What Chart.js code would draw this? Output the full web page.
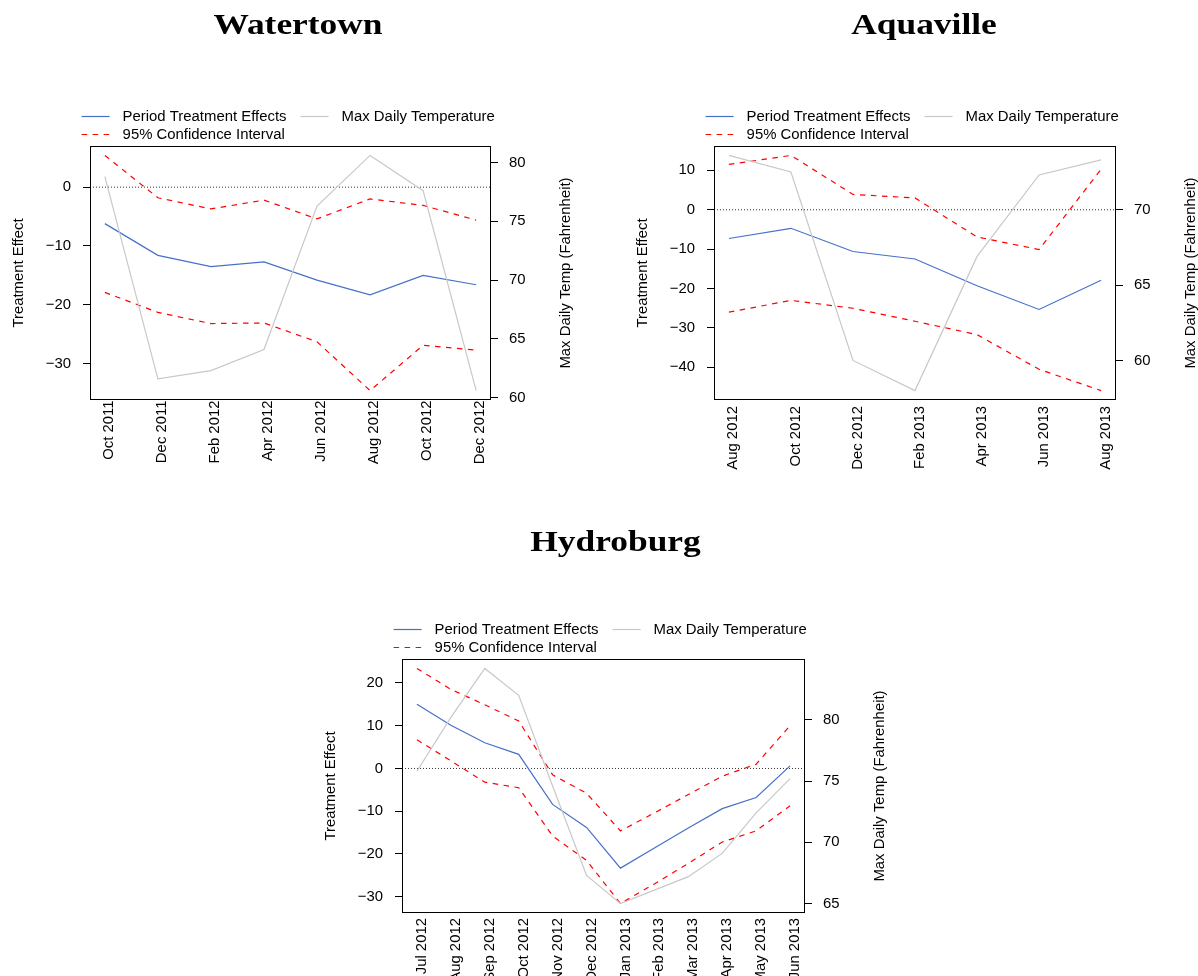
<!DOCTYPE html>
<html>
<head>
<meta charset="utf-8">
<script src="https://cdn.jsdelivr.net/npm/chart.js@4.4.1/dist/chart.umd.min.js"></script>
<style>
  html, body { margin: 0; padding: 0; background: #fff; }
  body { width: 1198px; height: 976px; position: relative; overflow: hidden; }
  canvas { position: absolute; display: block; }
</style>
</head>
<body>
<canvas id="water" width="600" height="490" style="left:0;top:0"></canvas>
<canvas id="aqua" width="598" height="490" style="left:600px;top:0"></canvas>
<canvas id="hydro" width="600" height="486" style="left:300px;top:490px"></canvas>
<script>
// ---- Watertown ----
const waterMonths = ['Oct 2011', 'Dec 2011', 'Feb 2012', 'Apr 2012', 'Jun 2012', 'Aug 2012', 'Oct 2012', 'Dec 2012'];
const waterEffect = [-6.2, -11.6, -13.5, -12.7, -15.8, -18.3, -15.0, -16.6];
const waterUpper = [5.4, -1.8, -3.7, -2.2, -5.4, -2.0, -3.1, -5.6];
const waterLower = [-17.9, -21.3, -23.2, -23.1, -26.3, -34.6, -26.9, -27.7];
const waterTemp = [78.8, 61.6, 62.3, 64.1, 76.3, 80.6, 77.6, 60.6];
const waterEffectTicks = [-30, -20, -10, 0];
const waterTempTicks = [60, 65, 70, 75, 80];

// ---- Aquaville ----
const aquaMonths = ['Aug 2012', 'Oct 2012', 'Dec 2012', 'Feb 2013', 'Apr 2013', 'Jun 2013', 'Aug 2013'];
const aquaEffect = [-7.3, -4.7, -10.6, -12.5, -19.3, -25.3, -17.9];
const aquaUpper = [11.5, 13.8, 3.9, 3.0, -6.9, -10.1, 10.3];
const aquaLower = [-26.0, -23.0, -25.0, -28.3, -31.7, -40.5, -45.9];
const aquaTemp = [73.6, 72.5, 60.0, 58.0, 66.9, 72.3, 73.3];
const aquaEffectTicks = [-40, -30, -20, -10, 0, 10];
const aquaTempTicks = [60, 65, 70];

// ---- Hydroburg ----
const hydroMonths = ['Jul 2012', 'Aug 2012', 'Sep 2012', 'Oct 2012', 'Nov 2012', 'Dec 2012',
                     'Jan 2013', 'Feb 2013', 'Mar 2013', 'Apr 2013', 'May 2013', 'Jun 2013'];
const hydroEffect = [15.0, 10.1, 6.0, 3.3, -8.4, -13.8, -23.3, -18.6, -13.9, -9.4, -6.8, 0.6];
const hydroUpper = [23.4, 18.5, 14.9, 11.1, -1.5, -5.8, -14.6, -10.4, -6.1, -1.8, 1.0, 10.0];
const hydroLower = [6.7, 1.8, -3.2, -4.5, -15.8, -21.5, -31.6, -27.0, -22.2, -17.2, -14.6, -8.7];
const hydroTemp = [75.8, 80.2, 84.2, 82.0, 74.6, 67.3, 65.0, 66.1, 67.2, 69.1, 72.4, 75.2];
const hydroEffectTicks = [-30, -20, -10, 0, 10, 20];
const hydroTempTicks = [65, 70, 75, 80];

const SANS = "'Liberation Sans', Arial, Helvetica, sans-serif";
const SERIF = "'Liberation Serif', 'Times New Roman', serif";
const TEXT_SIZE = 14.9;
Chart.defaults.font.family = SANS;
Chart.defaults.font.size = TEXT_SIZE;
Chart.defaults.color = '#000';

const BLUE = '#4670c8';
const RED = '#ff0000';
const GRAY = '#c8c8c8';
const DASH = [5.5, 5.5];

// axis limits padded by 4% of the data span on each side
function paddedRange(arrays) {
  const all = arrays.flat();
  const lo = Math.min(...all), hi = Math.max(...all);
  const pad = (hi - lo) * 0.04;
  return { min: lo - pad, max: hi + pad };
}

function signed(v) {
  return v < 0 ? '\u2212' + Math.abs(v) : String(v);
}

function drawUpright(ctx, text, x, y) {
  ctx.save();
  ctx.translate(x, y);
  ctx.rotate(-Math.PI / 2);
  ctx.textAlign = 'center';
  ctx.textBaseline = 'middle';
  ctx.fillText(text, 0, 0);
  ctx.restore();
}

// frame, axis titles, legend and panel heading
const panelDecor = {
  id: 'panelDecor',
  afterDatasetsDraw(chart) {
    const a = chart.chartArea, ctx = chart.ctx;
    ctx.save();
    ctx.strokeStyle = '#000';
    ctx.lineWidth = 1;
    ctx.strokeRect(a.left + 0.5, a.top + 0.5, a.right - a.left - 1, a.bottom - a.top - 1);
    ctx.restore();
  },
  afterDraw(chart, args, opts) {
    const a = chart.chartArea, ctx = chart.ctx;
    const sc = chart.options.scales;
    ctx.save();
    ctx.fillStyle = '#000';
    ctx.font = TEXT_SIZE + 'px ' + SANS;
    drawUpright(ctx, sc.y.title.text, a.left - 71.5, (a.top + a.bottom) / 2);
    drawUpright(ctx, sc.yTemp.title.text, a.right + 75, (a.top + a.bottom) / 2);

    // legend
    const ds = chart.data.datasets;
    const items = [
      { d: ds[1], dx: 0, dy: -29.5 },
      { d: ds[0], dx: 219, dy: -29.5 },
      { d: ds[2], dx: 0, dy: -11.5 }
    ];
    items.forEach(it => {
      const y = a.top + it.dy;
      const x0 = a.left - 8.4 + it.dx;
      ctx.save();
      ctx.strokeStyle = it.d.borderColor;
      ctx.lineWidth = it.d.borderWidth;
      ctx.setLineDash(it.d.borderDash || []);
      ctx.beginPath();
      ctx.moveTo(x0, y);
      ctx.lineTo(x0 + 28, y);
      ctx.stroke();
      ctx.restore();
      ctx.textAlign = 'left';
      ctx.textBaseline = 'middle';
      ctx.fillText(it.d.label, x0 + 41, y + 0.5);
    });

    // heading
    ctx.font = 'bold 29.5px ' + SERIF;
    ctx.textAlign = 'center';
    ctx.textBaseline = 'alphabetic';
    ctx.translate(opts.headX, opts.headY);
    ctx.scale(1.2, 1);
    ctx.fillText(opts.heading, 0, 0);
    ctx.restore();
  }
};

function buildPanel(id, cfg) {
  const n = cfg.months.length;
  const xPad = (n - 1) * 0.04;
  const xMin = -xPad, xMax = n - 1 + xPad;
  const pts = arr => arr.map((v, i) => ({ x: i, y: v }));
  const eff = paddedRange([cfg.effect, cfg.upper, cfg.lower]);
  const tmp = paddedRange([cfg.temp]);
  const tickGrid = { drawOnChartArea: false, drawTicks: true, tickLength: 7, color: '#000', lineWidth: 1 };

  return new Chart(document.getElementById(id), {
    type: 'line',
    data: {
      datasets: [
        { label: 'Max Daily Temperature', data: pts(cfg.temp), yAxisID: 'yTemp',
          borderColor: GRAY, borderWidth: 1.2, order: 0 },
        { label: 'Period Treatment Effects', data: pts(cfg.effect), yAxisID: 'y',
          borderColor: BLUE, borderWidth: 1.2, order: 1 },
        { label: '95% Confidence Interval', data: pts(cfg.upper), yAxisID: 'y',
          borderColor: RED, borderWidth: 1.2, borderDash: DASH, order: 2 },
        { label: '95% Confidence Interval', data: pts(cfg.lower), yAxisID: 'y',
          borderColor: RED, borderWidth: 1.2, borderDash: DASH, order: 3 },
        { label: 'zero', data: [{ x: xMin, y: 0 }, { x: xMax, y: 0 }], yAxisID: 'y',
          borderColor: '#333', borderWidth: 1, borderDash: [1, 2], order: 4 }
      ]
    },
    options: {
      responsive: false,
      animation: false,
      events: [],
      layout: { padding: { top: cfg.top, left: 0, right: 0, bottom: 0 } },
      elements: { point: { radius: 0 }, line: { tension: 0, fill: false } },
      plugins: {
        legend: { display: false },
        tooltip: { enabled: false },
        panelDecor: { heading: cfg.heading, headX: cfg.headX, headY: cfg.headY }
      },
      scales: {
        x: {
          type: 'linear', position: 'bottom', min: xMin, max: xMax, bounds: 'data',
          afterBuildTicks: s => { s.ticks = cfg.months.map((_, i) => ({ value: i })); },
          afterFit: s => { s.height = cfg.xHeight; },
          grid: { drawOnChartArea: false, drawTicks: false },
          border: { display: false },
          ticks: { autoSkip: false, minRotation: 90, maxRotation: 90,
                   padding: cfg.xGap, labelOffset: cfg.xShift,
                   callback: v => cfg.months[v] }
        },
        y: {
          type: 'linear', position: 'left', min: eff.min, max: eff.max, bounds: 'data',
          afterBuildTicks: s => { s.ticks = cfg.effectTicks.map(v => ({ value: v })); },
          afterFit: s => { s.width = cfg.leftW; },
          grid: tickGrid,
          border: { display: false },
          ticks: { autoSkip: false, padding: 12, callback: signed },
          title: { display: false, text: 'Treatment Effect' }
        },
        yTemp: {
          type: 'linear', position: 'right', min: tmp.min, max: tmp.max, bounds: 'data',
          afterBuildTicks: s => { s.ticks = cfg.tempTicks.map(v => ({ value: v })); },
          afterFit: s => { s.width = cfg.rightW; },
          grid: tickGrid,
          border: { display: false },
          ticks: { autoSkip: false, padding: 11, callback: signed },
          title: { display: false, text: 'Max Daily Temp (Fahrenheit)' }
        }
      }
    },
    plugins: [panelDecor]
  });
}

buildPanel('water', {
  heading: 'Watertown', headX: 298, headY: 34.3,
  months: waterMonths, effect: waterEffect, upper: waterUpper, lower: waterLower, temp: waterTemp,
  effectTicks: waterEffectTicks, tempTicks: waterTempTicks,
  top: 146, leftW: 90, rightW: 109, xHeight: 90, xGap: 0.5, xShift: 4
});

buildPanel('aqua', {
  heading: 'Aquaville', headX: 324, headY: 34.3,
  months: aquaMonths, effect: aquaEffect, upper: aquaUpper, lower: aquaLower, temp: aquaTemp,
  effectTicks: aquaEffectTicks, tempTicks: aquaTempTicks,
  top: 146, leftW: 114, rightW: 82, xHeight: 90, xGap: 6, xShift: 4.5
});

buildPanel('hydro', {
  heading: 'Hydroburg', headX: 315.5, headY: 61,
  months: hydroMonths, effect: hydroEffect, upper: hydroUpper, lower: hydroLower, temp: hydroTemp,
  effectTicks: hydroEffectTicks, tempTicks: hydroTempTicks,
  top: 169, leftW: 102, rightW: 95, xHeight: 63, xGap: 5, xShift: 5
});
</script>
</body>
</html>
